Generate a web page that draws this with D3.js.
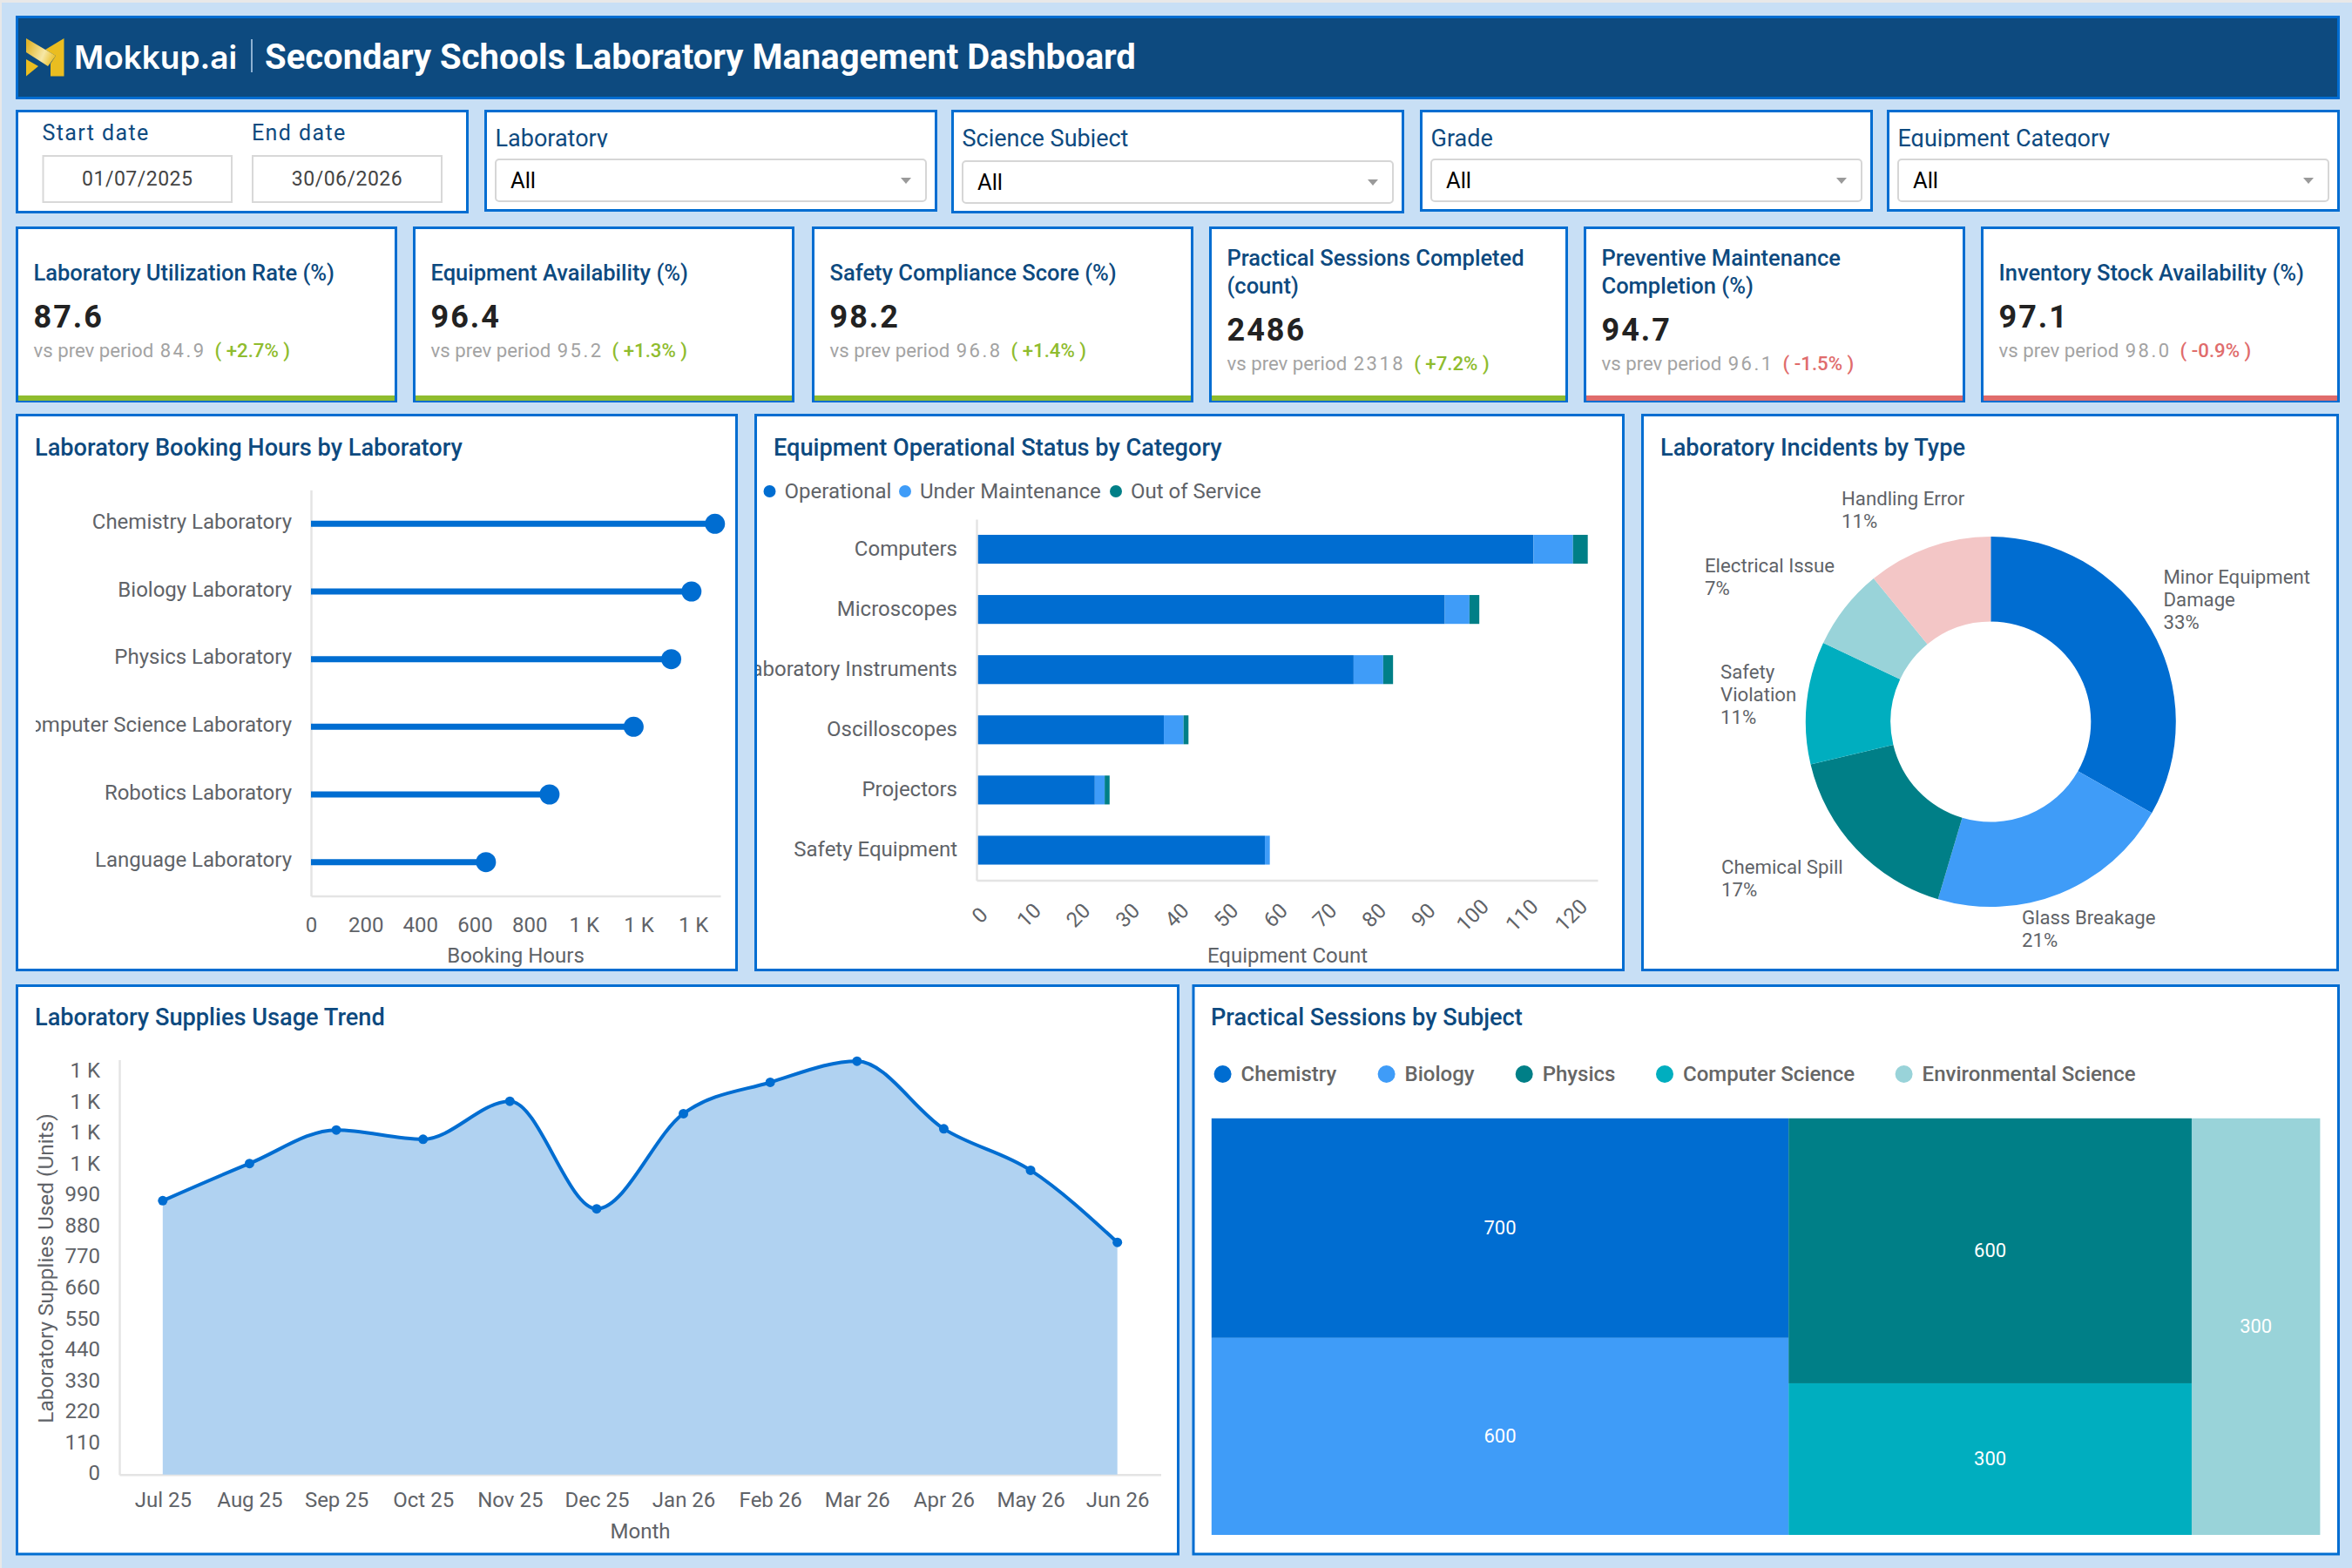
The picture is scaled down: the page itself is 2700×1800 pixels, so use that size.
<!DOCTYPE html>
<html>
<head>
<meta charset="utf-8">
<title>Secondary Schools Laboratory Management Dashboard</title>
<script src="https://cdn.jsdelivr.net/npm/d3@7"></script>
<style>
  html, body { margin: 0; padding: 0; background: #c8dff5; }
  svg { display: block; font-family: Roboto, sans-serif; }
</style>
</head>
<body>
<svg id="dash" width="2700" height="1800"></svg>
<script>
// ---- data ----
var filterLabels = ['Laboratory', 'Science Subject', 'Grade', 'Equipment Category'];
var filterValue = 'All';
var startDate = '01/07/2025', endDate = '30/06/2026';

var kpiTitles = [
  ['Laboratory Utilization Rate (%)'],
  ['Equipment Availability (%)'],
  ['Safety Compliance Score (%)'],
  ['Practical Sessions Completed', '(count)'],
  ['Preventive Maintenance', 'Completion (%)'],
  ['Inventory Stock Availability (%)']
];
var kpiValues = ['87.6', '96.4', '98.2', '2486', '94.7', '97.1'];
var kpiPrev = ['84.9', '95.2', '96.8', '2318', '96.1', '98.0'];
var kpiDelta = [2.7, 1.3, 1.4, 7.2, -1.5, -0.9];

var labs = ['Chemistry Laboratory', 'Biology Laboratory', 'Physics Laboratory', 'Computer Science Laboratory', 'Robotics Laboratory', 'Language Laboratory'];
var bookingHours = [1480, 1394, 1320, 1182, 874, 641];

var equipCats = ['Computers', 'Microscopes', 'Laboratory Instruments', 'Oscilloscopes', 'Projectors', 'Safety Equipment'];
var statusNames = ['Operational', 'Under Maintenance', 'Out of Service'];
var operational = [113, 95, 76.5, 38, 24, 58.5];
var underMaint = [8, 5, 6, 4, 2, 1];
var outOfService = [3, 2, 2, 1, 1, 0];

var incidentTypes = ['Minor Equipment Damage', 'Glass Breakage', 'Chemical Spill', 'Safety Violation', 'Electrical Issue', 'Handling Error'];
var incidentShare = [33.2, 21.4, 16.7, 10.7, 7.1, 10.9];

var months = ['Jul 25', 'Aug 25', 'Sep 25', 'Oct 25', 'Nov 25', 'Dec 25', 'Jan 26', 'Feb 26', 'Mar 26', 'Apr 26', 'May 26', 'Jun 26'];
var suppliesUsed = [972, 1104, 1223, 1190, 1325, 943, 1281, 1392, 1467, 1227, 1080, 824];

var subjects = ['Chemistry', 'Biology', 'Physics', 'Computer Science', 'Environmental Science'];
var subjectSessions = [682, 612, 575, 329, 288];

// ---- colours ----
var BLUE = '#006dd1', SKY = '#3f9cf8', TEAL = '#007f87', CYAN = '#00aebf', PALE = '#99d3d9', PINK = '#f3c6c6';
var NAVY = '#0d4a7f', GREY = '#5f6368', AXIS = '#e4e4e4', GOOD = '#8fbc2e', BAD = '#e06c6c';

var svg = d3.select('#dash');
var defs = svg.append('defs');

function clip(id, x, y, w, h) {
  defs.append('clipPath').attr('id', id).append('rect')
    .attr('x', x).attr('y', y).attr('width', w).attr('height', h);
  return 'url(#' + id + ')';
}

function panel(x0, y0, x1, y1, fill) {
  return svg.append('rect')
    .attr('x', x0 + 1.5).attr('y', y0 + 1.5)
    .attr('width', x1 - x0 - 3).attr('height', y1 - y0 - 3)
    .attr('fill', fill || '#fff')
    .attr('stroke', BLUE).attr('stroke-width', 3);
}

function label(x, y, str, size, color, weight) {
  return svg.append('text')
    .attr('x', x).attr('y', y)
    .attr('font-size', size)
    .attr('fill', color)
    .attr('font-weight', weight || 400)
    .text(str);
}

function chartTitle(x, y, str) {
  return label(x, y, str, 27.2, NAVY, 500);
}

function styleAxis(g) {
  g.select('.domain').attr('stroke', AXIS).attr('stroke-width', 2.5);
  g.selectAll('text').attr('fill', GREY).attr('font-size', 24).attr('font-family', 'Roboto, sans-serif');
}

// thousands come out as "1 K" on these axes, no decimals
function kFormat(v) {
  return v < 1000 ? String(v) : Math.round(v / 1000) + ' K';
}

// ---- page edge + header ----
svg.append('rect').attr('width', 2700).attr('height', 1800).attr('fill', '#c8dff5');
svg.append('rect').attr('width', 2700).attr('height', 3).attr('fill', '#e8e8e8');
svg.append('rect').attr('width', 2).attr('height', 1800).attr('fill', '#e8e8e8');

panel(18, 18, 2686, 114, NAVY);

var grad = defs.append('linearGradient').attr('id', 'logoGold')
  .attr('x1', 0).attr('y1', 0.3).attr('x2', 1).attr('y2', 0.7);
grad.append('stop').attr('offset', '0').attr('stop-color', '#e2b52a');
grad.append('stop').attr('offset', '0.6').attr('stop-color', '#f6e7a6');
grad.append('stop').attr('offset', '1').attr('stop-color', '#eabd20');

var logo = svg.append('g').attr('transform', 'translate(30,44)');
logo.append('path').attr('d', 'M43.5 0 L22 13 L34 20 L28 29 L28 43.5 L43.5 43.5 Z').attr('fill', '#eabd20');
logo.append('path').attr('d', 'M0 24 L14 32 L0 43.5 Z').attr('fill', '#eabd20');
logo.append('path').attr('d', 'M0 0 L34 20 L25 32 L0 16 Z').attr('fill', 'url(#logoGold)');

svg.append('text').attr('x', 85).attr('y', 79)
  .attr('font-family', 'Inter, sans-serif').attr('font-weight', 600)
  .attr('font-size', 37).attr('fill', '#fff').text('Mokkup.ai');
svg.append('line').attr('x1', 289).attr('x2', 289).attr('y1', 45).attr('y2', 83)
  .attr('stroke', '#b8d4ee').attr('stroke-width', 1.5);
label(304, 79, 'Secondary Schools Laboratory Management Dashboard', 40, '#fff', 700);

// ---- filter row ----
panel(18, 126, 538, 245);
[[48.5, 267, 'Start date', startDate], [289, 508, 'End date', endDate]].forEach(function(d) {
  label(d[0], 161, d[2], 25, NAVY).attr('letter-spacing', 1.4);
  svg.append('rect').attr('x', d[0] + 1).attr('y', 179).attr('width', d[1] - d[0] - 2).attr('height', 53)
    .attr('fill', '#fff').attr('stroke', '#d8d8d8').attr('stroke-width', 2);
  label((d[0] + d[1]) / 2, 213, d[3], 23, '#444').attr('text-anchor', 'middle').attr('letter-spacing', 0.5);
});

var filterEdges = [[556, 1076, 0], [1092, 1612, 2], [1630, 2150, 0], [2166, 2686, 0]];
filterLabels.forEach(function(name, i) {
  var e = filterEdges[i], shift = e[2];
  panel(e[0], 126, e[1], 243 + shift);
  label(e[0] + 12.5, 167.5, name, 27, NAVY).attr('clip-path', clip('fl' + i, e[0], 130, e[1] - e[0], 39));
  svg.append('rect').attr('x', e[0] + 13).attr('y', 183 + shift)
    .attr('width', e[1] - e[0] - 26).attr('height', 48).attr('rx', 4)
    .attr('fill', '#fff').attr('stroke', '#d6d6d6').attr('stroke-width', 2);
  label(e[0] + 30, 216 + shift, filterValue, 25.5, '#000');
  var ax = e[1] - 36, ay = 204 + shift;
  svg.append('path').attr('d', 'M' + (ax - 6) + ' ' + ay + ' h12 l-6 7 z').attr('fill', '#9a9a9a');
});

// ---- KPI cards ----
var cardEdges = [[18, 456], [474, 912], [932, 1370], [1388, 1800], [1818, 2256], [2274, 2686]];
kpiTitles.forEach(function(lines, i) {
  var e = cardEdges[i], tx = e[0] + 20.5, two = lines.length > 1;
  var good = kpiDelta[i] >= 0, tone = good ? GOOD : BAD;
  panel(e[0], 260, e[1], 462);
  svg.append('rect').attr('x', e[0] + 3).attr('y', 454).attr('width', e[1] - e[0] - 6).attr('height', 6).attr('fill', tone);
  lines.forEach(function(t, k) {
    label(tx, (two ? 305 : 321.5) + k * 32, t, 25.5, NAVY, 500);
  });
  var vy = two ? 391 : 375.5;
  label(tx, vy, kpiValues[i], 36, '#222', 700).attr('letter-spacing', 2);
  var sub = label(tx, vy + 34, 'vs prev period ', 22.2, '#a3a3a3');
  sub.append('tspan').attr('dx', 2).attr('letter-spacing', 2.5).attr('font-size', 22).text(kpiPrev[i]);
  sub.append('tspan').attr('dx', 10).attr('fill', tone).attr('font-weight', 500)
    .text('( ' + (good ? '+' : '') + kpiDelta[i].toFixed(1) + '% )');
});

// ---- lollipop: booking hours ----
panel(18, 475, 847, 1115);
chartTitle(40, 523, 'Laboratory Booking Hours by Laboratory');

var hoursX = d3.scaleLinear().domain([0, 1500]).range([357, 827]);
var hoursY = d3.scaleBand().domain(labs).range([562.5, 1028.5]);

svg.append('g').attr('transform', 'translate(0,1028.5)')
  .call(d3.axisBottom(hoursX).tickValues(d3.range(0, 1401, 200)).tickFormat(kFormat).tickSize(0).tickPadding(24))
  .call(styleAxis);
// long category names get cut at the panel padding, as in the source
svg.append('g').attr('clip-path', clip('labClip', 41, 550, 330, 490))
  .append('g').attr('transform', 'translate(357,0)')
  .call(d3.axisLeft(hoursY).tickSize(0).tickPadding(22))
  .call(styleAxis)
  .selectAll('text').attr('dy', '0.24em');

labs.forEach(function(lab, i) {
  var cy = hoursY(lab) + hoursY.bandwidth() / 2;
  svg.append('line').attr('x1', hoursX(0)).attr('x2', hoursX(bookingHours[i])).attr('y1', cy).attr('y2', cy)
    .attr('stroke', BLUE).attr('stroke-width', 7);
  svg.append('circle').attr('cx', hoursX(bookingHours[i])).attr('cy', cy).attr('r', 11.5).attr('fill', BLUE);
});
label(592, 1105, 'Booking Hours', 24, GREY).attr('text-anchor', 'middle');

// ---- stacked bars: equipment status ----
panel(866, 475, 1865, 1115);
chartTitle(888, 523, 'Equipment Operational Status by Category');

var statusColor = d3.scaleOrdinal().domain(statusNames).range([BLUE, SKY, TEAL]);
var equipRows = equipCats.map(function(c, i) {
  return { cat: c, 'Operational': operational[i], 'Under Maintenance': underMaint[i], 'Out of Service': outOfService[i] };
});
var stacked = d3.stack().keys(statusNames)(equipRows);

var equipX = d3.scaleLinear().domain([0, 126]).range([1121, 1834]);
var equipY = d3.scaleBand().domain(equipCats).range([596, 1010.5]).paddingInner(0.52).paddingOuter(0.26);

stacked.forEach(function(layer) {
  svg.append('g').attr('fill', statusColor(layer.key))
    .selectAll('rect').data(layer).enter().append('rect')
    .attr('x', function(d) { return equipX(d[0]); })
    .attr('y', function(d) { return equipY(d.data.cat); })
    .attr('width', function(d) { return equipX(d[1]) - equipX(d[0]); })
    .attr('height', equipY.bandwidth());
});

var equipAxisX = svg.append('g').attr('transform', 'translate(0,1010.5)')
  .call(d3.axisBottom(equipX).tickValues(d3.range(0, 121, 10)).tickSize(0))
  .call(styleAxis);
equipAxisX.selectAll('text')
  .attr('y', 0).attr('dy', '0.35em').attr('text-anchor', 'middle')
  .attr('transform', 'translate(3,40) rotate(-45)');
svg.append('g').attr('clip-path', clip('equipClip', 869, 585, 270, 440))
  .append('g').attr('transform', 'translate(1121,0)')
  .call(d3.axisLeft(equipY).tickSize(0).tickPadding(22))
  .call(styleAxis)
  .selectAll('text').attr('dy', '0.29em');
label(1478, 1105, 'Equipment Count', 24, GREY).attr('text-anchor', 'middle');

var statusLegendX = [883.5, 1039, 1281];
statusNames.forEach(function(s, i) {
  svg.append('circle').attr('cx', statusLegendX[i]).attr('cy', 564).attr('r', 7).attr('fill', statusColor(s));
  label(statusLegendX[i] + 17, 572, s, 24, GREY);
});

// ---- donut: incidents ----
panel(1884, 475, 2685, 1115);
chartTitle(1906, 523, 'Laboratory Incidents by Type');

var incidentColor = d3.scaleOrdinal().domain(incidentTypes).range([BLUE, SKY, TEAL, CYAN, PALE, PINK]);
var incidentArcs = d3.pie().sort(null).value(function(d) { return d.share; })(
  incidentTypes.map(function(t, i) { return { type: t, share: incidentShare[i] }; })
);
var arc = d3.arc().innerRadius(115).outerRadius(212.5);
svg.append('g').attr('transform', 'translate(2285.3,828.6)')
  .selectAll('path').data(incidentArcs).enter().append('path')
  .attr('d', arc)
  .attr('fill', function(d) { return incidentColor(d.data.type); });

// where each wrapped label sits next to its slice
var incidentLabelLines = [['Minor Equipment', 'Damage'], ['Glass Breakage'], ['Chemical Spill'], ['Safety', 'Violation'], ['Electrical Issue'], ['Handling Error']];
var incidentLabelXY = [[2483.5, 670], [2321, 1060.5], [1976, 1003], [1975, 778.5], [1957, 656.5], [2114, 579.5]];
incidentArcs.forEach(function(d, i) {
  var pos = incidentLabelXY[i];
  var lines = incidentLabelLines[i].concat(Math.round(d.data.share) + '%');
  lines.forEach(function(t, k) {
    label(pos[0], pos[1] + k * 26, t, 22.2, GREY);
  });
});

// ---- area: supplies trend ----
panel(18, 1130, 1354, 1785.5);
chartTitle(40, 1177, 'Laboratory Supplies Usage Trend');

var trendX = d3.scalePoint().domain(months).range([137, 1332.5]).padding(0.5);
var trendY = d3.scaleLinear().domain([0, 1472]).range([1692.7, 1216.6]);

svg.append('g').attr('transform', 'translate(0,1692.7)')
  .call(d3.axisBottom(trendX).tickSize(0).tickPadding(20))
  .call(styleAxis);
svg.append('g').attr('transform', 'translate(137,0)')
  .call(d3.axisLeft(trendY).tickValues(d3.range(0, 1431, 110)).tickFormat(kFormat).tickSize(0).tickPadding(22))
  .call(styleAxis)
  .selectAll('text').attr('dy', '0.26em');

var trend = months.map(function(m, i) { return { month: m, used: suppliesUsed[i] }; });
var area = d3.area().curve(d3.curveMonotoneX)
  .x(function(d) { return trendX(d.month); })
  .y0(trendY(0))
  .y1(function(d) { return trendY(d.used); });
var line = d3.line().curve(d3.curveMonotoneX)
  .x(function(d) { return trendX(d.month); })
  .y(function(d) { return trendY(d.used); });

svg.append('path').datum(trend).attr('d', area).attr('fill', '#b0d2f1');
svg.append('path').datum(trend).attr('d', line).attr('fill', 'none').attr('stroke', BLUE).attr('stroke-width', 4);
svg.append('g').selectAll('circle').data(trend).enter().append('circle')
  .attr('cx', function(d) { return trendX(d.month); })
  .attr('cy', function(d) { return trendY(d.used); })
  .attr('r', 5.5).attr('fill', BLUE);

label(735, 1766, 'Month', 24, GREY).attr('text-anchor', 'middle');
svg.append('text').attr('transform', 'translate(61,1456) rotate(-90)')
  .attr('text-anchor', 'middle').attr('font-size', 24.4).attr('fill', GREY)
  .text('Laboratory Supplies Used (Units)');

// ---- treemap: sessions by subject ----
panel(1368.5, 1130, 2686, 1785.5);
chartTitle(1390, 1177, 'Practical Sessions by Subject');

var subjectColor = d3.scaleOrdinal().domain(subjects).range([BLUE, SKY, TEAL, CYAN, PALE]);
var subjectLegendX = [1403.6, 1591.6, 1749.7, 1911, 2185.6];
subjects.forEach(function(s, i) {
  svg.append('circle').attr('cx', subjectLegendX[i]).attr('cy', 1233).attr('r', 10).attr('fill', subjectColor(s));
  label(subjectLegendX[i] + 21, 1241, s, 24, '#666', 500);
});

// columns first, then stacked inside each column
var subjectTree = { children: [
  { children: [{ name: subjects[0], value: subjectSessions[0] }, { name: subjects[1], value: subjectSessions[1] }] },
  { children: [{ name: subjects[2], value: subjectSessions[2] }, { name: subjects[3], value: subjectSessions[3] }] },
  { children: [{ name: subjects[4], value: subjectSessions[4] }] }
] };
var treeRoot = d3.hierarchy(subjectTree).sum(function(d) { return d.value || 0; });
d3.treemap()
  .size([1272.6, 478.2])
  .tile(function(node, x0, y0, x1, y1) {
    (node.depth === 0 ? d3.treemapDice : d3.treemapSlice)(node, x0, y0, x1, y1);
  })(treeRoot);

var cells = svg.append('g').attr('transform', 'translate(1390.8,1283.8)')
  .selectAll('g').data(treeRoot.leaves()).enter().append('g');
cells.append('rect')
  .attr('x', function(d) { return d.x0; })
  .attr('y', function(d) { return d.y0; })
  .attr('width', function(d) { return d.x1 - d.x0; })
  .attr('height', function(d) { return d.y1 - d.y0; })
  .attr('fill', function(d) { return subjectColor(d.data.name); });
cells.append('text')
  .attr('x', function(d) { return (d.x0 + d.x1) / 2; })
  .attr('y', function(d) { return (d.y0 + d.y1) / 2 - 1; })
  .attr('dy', '0.35em').attr('text-anchor', 'middle')
  .attr('font-size', 22).attr('fill', '#fff')
  .text(function(d) { return d3.format('.1r')(d.data.value); });
</script>
</body>
</html>
